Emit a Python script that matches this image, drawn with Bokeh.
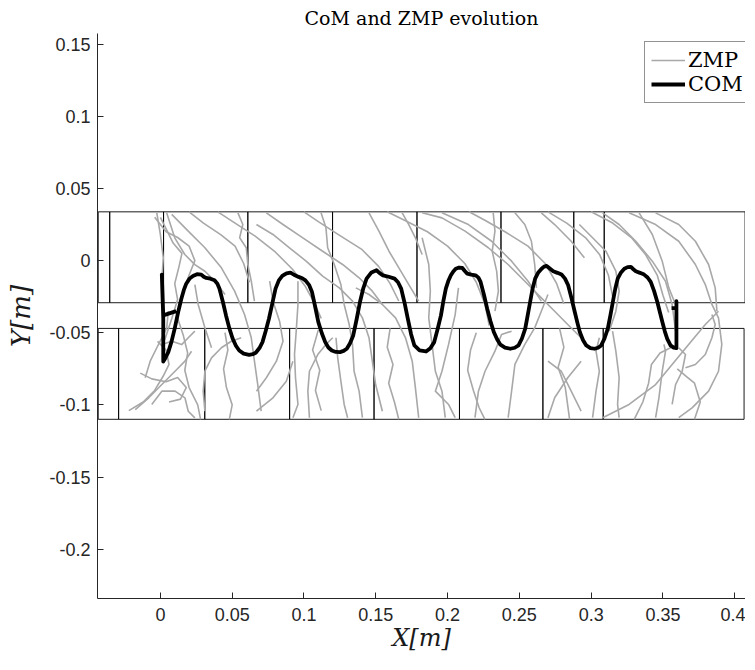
from bokeh.plotting import figure
from bokeh.models import Range1d, FixedTicker, Legend, LegendItem
from bokeh.embed import file_html
from bokeh.resources import INLINE

# ---------------- data ----------------
x_ticks = [0, 0.05, 0.1, 0.15, 0.2, 0.25, 0.3, 0.35, 0.4]
x_tick_labels = ["0", "0.05", "0.1", "0.15", "0.2", "0.25", "0.3", "0.35", "0.4"]
y_ticks = [-0.2, -0.15, -0.1, -0.05, 0, 0.05, 0.1, 0.15]
y_tick_labels = ["-0.2", "-0.15", "-0.1", "-0.05", "0", "0.05", "0.1", "0.15"]

# footprint outlines (upper row = one foot, lower row = other foot)
upper_left = [-0.0433, -0.0353, 0.0022, 0.0609, 0.1199, 0.1787, 0.2372, 0.2879, 0.3091]
upper_right = [-0.0353, 0.0022, 0.0609, 0.1199, 0.1787, 0.2372, 0.2879, 0.3091, 0.4072]
upper_bottom = [-0.0292] * 9
upper_top = [0.0338] * 9
lower_left = [-0.0433, -0.0291, 0.0309, 0.0900, 0.1488, 0.2083, 0.2664, 0.3084]
lower_right = [-0.0291, 0.0309, 0.0900, 0.1488, 0.2083, 0.2664, 0.3084, 0.4065]
lower_bottom = [-0.1100] * 8
lower_top = [-0.0470] * 8

# COM trajectory
com_x = [0.011, 0.002, 0.001, 0.002, 0.002,
         0.0035, 0.0055, 0.0078, 0.010, 0.0123, 0.0146, 0.0163, 0.018, 0.0203, 0.0227,
         0.0255, 0.0285, 0.0302, 0.0319, 0.0348, 0.0377, 0.0397, 0.0411, 0.0435, 0.0457,
         0.048, 0.0503, 0.0526, 0.0549, 0.058, 0.0618, 0.0643, 0.0664, 0.069, 0.0711,
         0.0733, 0.0756, 0.078, 0.0802, 0.0825, 0.0849, 0.0878, 0.0906, 0.093, 0.0963,
         0.0988, 0.101, 0.1035, 0.1056, 0.1078, 0.110, 0.1125, 0.1148, 0.117, 0.1194,
         0.1222, 0.1251, 0.1276, 0.1298, 0.132, 0.1343, 0.1366, 0.139, 0.1413, 0.1436,
         0.147, 0.1505, 0.1525, 0.155, 0.159, 0.1631, 0.1655, 0.1677, 0.170, 0.1723,
         0.1746, 0.1769, 0.1805, 0.185, 0.188, 0.1907, 0.193, 0.1954, 0.197, 0.1988,
         0.2005, 0.2023, 0.204, 0.2057, 0.208, 0.2103, 0.212, 0.2137, 0.2165, 0.2195,
         0.2215, 0.223, 0.2253, 0.2276, 0.2299, 0.2322, 0.2345, 0.2368, 0.240, 0.2437,
         0.2468, 0.2494, 0.2518, 0.2541, 0.2558, 0.2575, 0.2592, 0.261, 0.2632, 0.2655,
         0.2672, 0.269, 0.2712, 0.2736, 0.2765, 0.2794, 0.2818, 0.284, 0.2863, 0.2886,
         0.2904, 0.2921, 0.2943, 0.2966, 0.2995, 0.3024, 0.3048, 0.307, 0.3093, 0.3116,
         0.3134, 0.3151, 0.3168, 0.3185, 0.3208, 0.3231, 0.3254, 0.3277, 0.3294, 0.3311,
         0.334, 0.3369, 0.3393, 0.3415, 0.3438, 0.3461, 0.3478, 0.3496, 0.3513, 0.353,
         0.3553, 0.3575, 0.3594, 0.3594, 0.3594, 0.3594, 0.356]
com_y = [-0.035, -0.038, -0.0097, -0.040, -0.070,
         -0.0675, -0.0634, -0.056, -0.047, -0.036, -0.0264, -0.0205, -0.016, -0.0125, -0.0106,
         -0.0094, -0.0097, -0.0112, -0.012, -0.0125, -0.0137, -0.016, -0.0194, -0.0285, -0.038,
         -0.0468, -0.054, -0.059, -0.0623, -0.0645, -0.0653, -0.0649, -0.0639, -0.0606, -0.0565,
         -0.049, -0.0403, -0.0295, -0.0194, -0.0137, -0.0106, -0.0088, -0.0083, -0.0098, -0.0113,
         -0.0122, -0.0137, -0.0168, -0.0218, -0.032, -0.0426, -0.0505, -0.0565, -0.0602, -0.0623,
         -0.0633, -0.0634, -0.0626, -0.0611, -0.0575, -0.0519, -0.041, -0.0287, -0.0192, -0.0125,
         -0.0082, -0.0067, -0.0085, -0.0102, -0.0112, -0.0125, -0.015, -0.0194, -0.029, -0.0403,
         -0.051, -0.0588, -0.0622, -0.0630, -0.0607, -0.0565, -0.0478, -0.038, -0.0285, -0.0194,
         -0.0142, -0.0102, -0.0075, -0.0056, -0.0048, -0.0051, -0.0072, -0.009, -0.0097, -0.0102,
         -0.0118, -0.0148, -0.0235, -0.0333, -0.042, -0.0495, -0.0545, -0.0583, -0.0603, -0.0611,
         -0.0604, -0.0588, -0.054, -0.0472, -0.038, -0.0287, -0.0195, -0.0125, -0.0082, -0.0056,
         -0.0042, -0.0037, -0.0055, -0.0074, -0.0085, -0.0097, -0.0125, -0.0171, -0.026, -0.0356,
         -0.043, -0.0495, -0.055, -0.0588, -0.0606, -0.0611, -0.0604, -0.0588, -0.054, -0.0472,
         -0.038, -0.0287, -0.0195, -0.0125, -0.0082, -0.0056, -0.0045, -0.0044, -0.006, -0.0074,
         -0.0085, -0.0097, -0.0117, -0.0148, -0.021, -0.0287, -0.0355, -0.0426, -0.049, -0.0542,
         -0.0588, -0.0603, -0.0607, -0.045, -0.0281, -0.033, -0.033]

# ZMP trajectory, as strands
zmp_xs = [
    [-0.0025, 0.0, 0.002, 0.001],
    [0.0044, 0.010, 0.017, 0.024, 0.031, 0.038, 0.045],
    [0.0079, 0.0194, 0.031, 0.0425, 0.0517, 0.0586, 0.0633, 0.0655, 0.0678, 0.0702],
    [0.0, 0.009, 0.015, 0.013, 0.010, 0.012, 0.008, 0.003],
    [-0.0175, -0.0081, 0.001, 0.0102, 0.0171, 0.0217],
    [-0.0106, -0.0071, -0.0025, 0.001, 0.0044, 0.0055],
    [-0.006, 0.001, 0.0102, 0.0171, 0.0194, 0.024],
    [0.001, 0.0079, 0.0148, 0.0194, 0.024],
    [0.031, 0.0298, 0.031, 0.0356, 0.0425, 0.0494, 0.0563],
    [0.054, 0.0574, 0.0552, 0.0598, 0.0609, 0.0633, 0.0655],
    [0.024, 0.0263, 0.031, 0.0356],
    [0.0669, 0.0784, 0.0899, 0.1015, 0.113, 0.1246, 0.1338, 0.1407, 0.1453, 0.1476, 0.1499, 0.1546],
    [0.0738, 0.0854, 0.0992, 0.113, 0.1269, 0.1384, 0.1476, 0.1546],
    [0.1119, 0.1153, 0.1165, 0.1211, 0.1257, 0.128, 0.1315, 0.1338, 0.1349, 0.1384, 0.1407],
    [0.1223, 0.1235, 0.1257, 0.128, 0.1304],
    [0.0958, 0.0958, 0.0946, 0.0934, 0.0941, 0.0958, 0.0923],
    [0.1038, 0.1027, 0.1038, 0.1096, 0.1153, 0.12],
    [0.1361, 0.1453, 0.1546, 0.1638, 0.1707, 0.1754, 0.1776, 0.1799],
    [0.1453, 0.1522, 0.1592, 0.1661, 0.173, 0.1799],
    [0.0669, 0.0738, 0.0808, 0.0854, 0.083, 0.0784, 0.0761],
    [0.0669, 0.0784, 0.0877, 0.0923],
    [0.1684, 0.173, 0.1776, 0.1823],
    [0.1823, 0.1961, 0.2122, 0.2284, 0.2422, 0.2538, 0.2653, 0.2746, 0.2837, 0.293],
    [0.1961, 0.2145, 0.2307, 0.2446, 0.2561, 0.2653],
    [0.2318, 0.233, 0.2311, 0.2342, 0.2354, 0.233],
    [0.1823, 0.1869, 0.188, 0.1869, 0.1892, 0.1915, 0.1961, 0.1984],
    [0.2076, 0.2053, 0.2007, 0.1961, 0.1915, 0.2007, 0.2053],
    [0.2191, 0.2215, 0.2261, 0.233, 0.2376, 0.2446],
    [0.2422, 0.2446, 0.2469, 0.2538, 0.2607, 0.2653, 0.2699],
    [0.2469, 0.2538, 0.2584, 0.2607, 0.2619],
    [0.2653, 0.2746, 0.2861, 0.2953],
    [0.2699, 0.2746, 0.2837, 0.293],
    [0.2699, 0.2792, 0.2861, 0.293],
    [0.3264, 0.3449, 0.361, 0.3726, 0.3795, 0.3841, 0.3887, 0.391, 0.3887, 0.3818, 0.3703, 0.361],
    [0.308, 0.3195, 0.3311, 0.3426, 0.3518, 0.3564, 0.3588],
    [0.2918, 0.301, 0.3103, 0.3172, 0.3195, 0.3172, 0.3126],
    [0.3149, 0.3172, 0.3195, 0.3184, 0.3195],
    [0.301, 0.3034, 0.3057, 0.3034, 0.3057],
    [0.308, 0.3264, 0.3449, 0.3564, 0.3679, 0.3795, 0.3887],
    [0.3449, 0.3472, 0.3495, 0.3518, 0.3507],
    [0.3334, 0.3426, 0.3495, 0.3541, 0.3588],
    [0.3841, 0.3864, 0.3841, 0.3795, 0.3726, 0.3657],
    [0.361, 0.3657, 0.3634, 0.3588, 0.3564],
    [0.3449, 0.361, 0.3726, 0.3818, 0.3864, 0.3876],
    [0.040, 0.052, 0.066, 0.080, 0.092, 0.101, 0.107, 0.112],
    [0.100, 0.110, 0.124, 0.140, 0.152, 0.160, 0.166],
    [0.158, 0.170, 0.186, 0.200, 0.212, 0.220, 0.226, 0.229],
    [0.215, 0.226, 0.240, 0.256, 0.268, 0.276, 0.281],
    [0.270, 0.283, 0.296, 0.306, 0.312, 0.315],
    [0.045, 0.047, 0.044, 0.046, 0.050, 0.048],
    [0.160, 0.158, 0.162, 0.159, 0.163, 0.166],
    [0.220, 0.216, 0.214, 0.218, 0.222, 0.226],
    [0.278, 0.281, 0.277, 0.282, 0.285],
    [0.110, 0.106, 0.111, 0.108, 0.112],
    [-0.022, -0.012, -0.004, 0.002, 0.006, 0.004, -0.002],
    [-0.014, -0.006, 0.004, 0.012, 0.018, 0.014, 0.006],
    [0.012, 0.016, 0.019, 0.017, 0.020, 0.026, 0.028],
    [-0.004, 0.004, 0.012, 0.020, 0.024, 0.020, 0.016],
    [0.020, 0.030, 0.042, 0.052, 0.058, 0.062],
    [0.330, 0.336, 0.340, 0.342, 0.348, 0.356],
    [0.372, 0.376, 0.372, 0.366, 0.360],
    [0.300, 0.315, 0.328, 0.338, 0.346, 0.350, 0.354],
]
zmp_ys = [
    [0.033, 0.018, 0.002, -0.014],
    [0.033, 0.0158, 0.0042, -0.0028, -0.0074, -0.0143, -0.0235],
    [0.032, 0.0204, 0.0089, -0.005, -0.0212, -0.0374, -0.0535, -0.0697, -0.0859, -0.1044],
    [0.030, 0.012, 0.005, -0.004, -0.016, -0.027, -0.040, -0.055],
    [-0.1033, -0.0951, -0.0859, -0.0767, -0.0697, -0.0628],
    [-0.0812, -0.0697, -0.0604, -0.0535, -0.0466, -0.035],
    [-0.0997, -0.0905, -0.0905, -0.0951, -0.1044, -0.109],
    [-0.0582, -0.0559, -0.0582, -0.0535, -0.0489],
    [-0.1044, -0.0905, -0.0766, -0.0674, -0.0604, -0.0559, -0.0535],
    [0.0331, 0.025, 0.0158, 0.0089, -0.0027, -0.0143, -0.0281],
    [-0.0166, -0.0304, -0.0466, -0.0604],
    [0.025, 0.0181, 0.0089, -0.0004, -0.0108, -0.0189, -0.0281, -0.0397, -0.0535, -0.0697, -0.0859, -0.1044],
    [0.0331, 0.025, 0.0158, 0.0065, -0.0027, -0.0119, -0.0212, -0.0304],
    [0.0331, 0.0227, 0.0089, -0.0027, -0.0166, -0.0304, -0.0443, -0.0581, -0.0767, -0.0905, -0.1089],
    [-0.0535, -0.0674, -0.0836, -0.0997, -0.1089],
    [-0.0143, -0.0304, -0.0489, -0.0651, -0.0812, -0.0997, -0.1089],
    [-0.1089, -0.0905, -0.0767, -0.0651, -0.0581, -0.0535],
    [-0.0189, -0.0235, -0.0304, -0.0397, -0.0535, -0.0697, -0.0882, -0.1089],
    [0.0331, 0.0204, 0.0065, -0.005, -0.0166, -0.0281],
    [-0.0905, -0.0812, -0.0697, -0.0559, -0.042, -0.0281, -0.0143],
    [-0.1044, -0.0951, -0.0836, -0.0697],
    [0.0331, 0.025, 0.0158, 0.0042],
    [0.0331, 0.0296, 0.0204, 0.0089, -0.0027, -0.0143, -0.0258, -0.0351, -0.0443, -0.0535],
    [0.0331, 0.025, 0.0134, -0.0004, -0.0143, -0.0281],
    [0.0331, 0.0204, 0.0065, -0.0073, -0.0212, -0.0351],
    [0.0158, -0.0027, -0.0212, -0.0397, -0.0581, -0.0767, -0.0905, -0.1089],
    [-0.0189, -0.0374, -0.0581, -0.0767, -0.0905, -0.0997, -0.1089],
    [-0.1089, -0.0905, -0.0767, -0.0628, -0.0512, -0.0489],
    [-0.1089, -0.0905, -0.072, -0.0581, -0.0466, -0.0351, -0.0235],
    [0.0331, 0.025, 0.0134, -0.0027, -0.0189],
    [0.0331, 0.025, 0.0134, 0.0019],
    [-0.1089, -0.0951, -0.0812, -0.0697],
    [-0.0697, -0.0767, -0.0905, -0.1044],
    [0.0331, 0.025, 0.0134, -0.0027, -0.0166, -0.0304, -0.0397, -0.0581, -0.0767, -0.0905, -0.1021, -0.1089],
    [0.0331, 0.025, 0.0134, -0.0004, -0.0143, -0.0304, -0.0489],
    [0.025, 0.0158, 0.0065, -0.0073, -0.0212, -0.0351, -0.0489],
    [-0.0489, -0.0628, -0.0812, -0.0997, -0.1089],
    [-0.1089, -0.0905, -0.0767, -0.0628, -0.0535],
    [-0.1089, -0.0997, -0.0859, -0.072, -0.0581, -0.0443, -0.0351],
    [-0.1089, -0.0951, -0.0767, -0.0628, -0.0581],
    [0.0331, 0.0181, -0.0004, -0.0189, -0.0304],
    [-0.0374, -0.0443, -0.0535, -0.0651, -0.072, -0.0743],
    [-0.0604, -0.0651, -0.0767, -0.0859, -0.0997],
    [0.0331, 0.025, 0.0134, -0.0027, -0.0189, -0.0351],
    [0.0338, 0.026, 0.017, 0.006, -0.006, -0.018, -0.029, -0.040],
    [0.0338, 0.027, 0.018, 0.008, -0.004, -0.016, -0.028],
    [0.0338, 0.028, 0.020, 0.010, -0.002, -0.015, -0.030, -0.045],
    [0.0338, 0.028, 0.020, 0.010, -0.002, -0.016, -0.030],
    [0.0338, 0.026, 0.016, 0.004, -0.010, -0.025],
    [-0.050, -0.062, -0.075, -0.088, -0.100, -0.110],
    [-0.047, -0.060, -0.072, -0.085, -0.098, -0.110],
    [-0.050, -0.062, -0.076, -0.090, -0.102, -0.110],
    [-0.047, -0.060, -0.074, -0.088, -0.110],
    [-0.048, -0.062, -0.076, -0.090, -0.104],
    [-0.104, -0.098, -0.090, -0.080, -0.072, -0.062, -0.056],
    [-0.078, -0.082, -0.084, -0.081, -0.088, -0.096, -0.098],
    [-0.040, -0.052, -0.064, -0.076, -0.088, -0.100, -0.110],
    [0.030, 0.020, 0.016, 0.010, 0.0, -0.010, -0.022],
    [0.0338, 0.026, 0.018, 0.010, -0.002, -0.015],
    [-0.110, -0.098, -0.085, -0.072, -0.064, -0.060],
    [-0.110, -0.098, -0.085, -0.080, -0.075],
    [0.0338, 0.026, 0.016, 0.004, -0.010, -0.024, -0.036],
]

# ---------------- figure ----------------
p = figure(width=745, height=654,
           x_range=Range1d(-0.0438, 0.4075), y_range=Range1d(-0.2342, 0.1574),
           output_backend="svg", toolbar_location=None,
           min_border_left=97, min_border_right=0, min_border_top=31, min_border_bottom=55,
           title="CoM and ZMP evolution")

p.title.text_font = "DejaVu Serif"
p.title.text_font_size = "19px"
p.title.text_font_style = "normal"
p.title.align = "center"
p.title.standoff = 9
p.title.text_color = "black"

p.grid.visible = False
p.outline_line_color = None
p.background_fill_color = "white"

p.xaxis.ticker = FixedTicker(ticks=x_ticks)
p.xaxis.major_label_overrides = dict(zip(x_ticks, x_tick_labels))
p.yaxis.ticker = FixedTicker(ticks=y_ticks)
p.yaxis.major_label_overrides = dict(zip(y_ticks, y_tick_labels))

for ax in (p.xaxis[0], p.yaxis[0]):
    ax.major_tick_in = 6
    ax.major_tick_out = 0
    ax.minor_tick_line_color = None
    ax.axis_line_color = "#262626"
    ax.major_tick_line_color = "#262626"
    ax.major_label_text_color = "#262626"
    ax.major_label_text_font = "Liberation Sans"
    ax.major_label_text_font_size = "18px"
    ax.axis_label_text_font = "DejaVu Serif"
    ax.axis_label_text_font_style = "italic"
    ax.axis_label_text_color = "#1a1a1a"

p.xaxis.axis_label_text_font_size = "24px"
p.yaxis.axis_label_text_font_size = "26px"
p.xaxis.major_label_standoff = 9
p.yaxis.major_label_standoff = 7
p.xaxis.axis_label = "X[m]"
p.yaxis.axis_label = "Y[m]"
p.xaxis.axis_label_standoff = 0
p.yaxis.axis_label_standoff = 10

# footprints
p.quad(left=upper_left, right=upper_right, bottom=upper_bottom, top=upper_top,
       fill_color=None, line_color="black", line_width=0.9)
p.quad(left=lower_left, right=lower_right, bottom=lower_bottom, top=lower_top,
       fill_color=None, line_color="black", line_width=0.9)

r_zmp = p.multi_line(xs=zmp_xs, ys=zmp_ys, line_color="#a8a8a8", line_width=1.6,
                     line_join="round")
r_com = p.line(com_x, com_y, line_color="black", line_width=3.8, line_join="round")

legend = Legend(items=[LegendItem(label="ZMP", renderers=[r_zmp]),
                       LegendItem(label="COM", renderers=[r_com])],
                location=(547, 495))
legend.label_text_font = "DejaVu Serif"
legend.label_text_font_size = "21px"
legend.label_text_color = "black"
legend.padding = 6
legend.spacing = 0
legend.margin = 0
legend.glyph_width = 34
legend.glyph_height = 24
legend.label_height = 24
legend.label_standoff = 3
legend.border_line_color = "#262626"
legend.border_line_width = 1
legend.background_fill_color = "white"
legend.background_fill_alpha = 1
p.add_layout(legend)

open("out.html", "w").write(file_html(p, INLINE))
